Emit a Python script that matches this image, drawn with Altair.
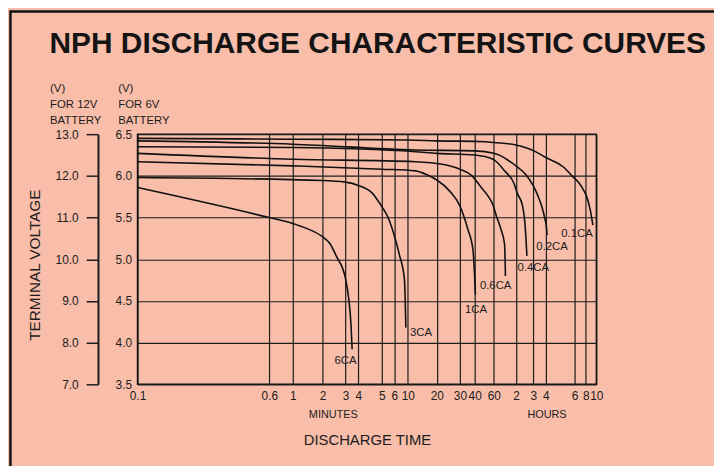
import altair as alt
import pandas as pd

# ---------------- data ----------------
curve_names = ["0.1CA", "0.2CA", "0.4CA", "0.6CA", "1CA", "3CA", "6CA"]

# discharge time in minutes, terminal voltage for a 6V battery
t_01 = [0.1, 1, 10, 20, 50, 60, 120, 183, 240, 310, 347, 400, 453, 487, 528, 558]
v_01 = [6.45, 6.44, 6.43, 6.42, 6.41, 6.40, 6.37, 6.30, 6.22, 6.10, 6.00, 5.92, 5.83, 5.76, 5.59, 5.41]

t_02 = [0.1, 1, 12, 40, 60, 75, 100, 120, 150, 180, 200, 220, 235, 242, 244]
v_02 = [6.42, 6.38, 6.31, 6.30, 6.27, 6.24, 6.17, 6.12, 6.02, 5.88, 5.76, 5.62, 5.48, 5.38, 5.29]

t_04 = [0.1, 1, 12, 20, 40, 59, 67, 84, 114, 124, 140, 148, 155]
v_04 = [6.35, 6.34, 6.29, 6.27, 6.25, 6.20, 6.16, 6.06, 5.90, 5.79, 5.64, 5.43, 5.04]

t_06 = [0.1, 1, 12, 22, 30, 38, 46, 53, 59, 65, 75, 84, 86.4]
v_06 = [6.27, 6.20, 6.17, 6.14, 6.08, 6.00, 5.86, 5.76, 5.65, 5.52, 5.36, 5.18, 4.80]

t_1 = [0.1, 1, 5, 12, 16, 20, 25, 30, 35, 38.7, 40.6]
v_1 = [6.17, 6.12, 6.08, 6.06, 6.01, 5.95, 5.82, 5.64, 5.36, 5.11, 4.58]

t_3 = [0.1, 2, 3, 4, 4.58, 4.8, 5.05, 5.45, 5.9, 7.3, 8.8, 9.3]
v_3 = [5.98, 5.945, 5.925, 5.885, 5.79, 5.71, 5.62, 5.51, 5.33, 5.05, 4.76, 4.18]

t_6 = [0.1, 0.6, 1, 1.38, 2, 2.3, 2.55, 3.0, 3.23, 3.40, 3.48]
v_6 = [5.86, 5.50, 5.43, 5.37, 5.27, 5.18, 5.04, 4.77, 4.52, 4.20, 3.92]

# curve labels (text centre, in data units)
label_text = ["6CA", "3CA", "1CA", "0.6CA", "0.4CA", "0.2CA", "0.1CA"]
label_t = [3.0, 13.7, 41.1, 63.6, 180, 262, 384]
label_v = [3.785, 4.12, 4.39, 4.68, 4.90, 5.15, 5.30]

# axes
tick_minutes = [0.1, 0.6, 1, 2, 3, 4, 5, 6, 10, 20, 30, 40, 60, 120, 180, 240, 360, 480, 600]
ticks_6v = [3.5, 4.0, 4.5, 5.0, 5.5, 6.0, 6.5]
ticks_12v = [7.0, 8.0, 9.0, 10.0, 11.0, 12.0, 13.0]
unit_t = [2.4, 242]  # centres of the MINUTES / HOURS captions

# ---------------- tables ----------------
series = [t_01, t_02, t_04, t_06, t_1, t_3, t_6]
volts = [v_01, v_02, v_04, v_06, v_1, v_3, v_6]
rows = []
for name, ts, vs in zip(curve_names, series, volts):
    for i, (t, v) in enumerate(zip(ts, vs)):
        rows.append({"curve": name, "t": t, "v": v, "order": i})
curves_df = pd.DataFrame(rows)
labels_df = pd.DataFrame({"label": label_text, "t": label_t, "v": label_v})
v12_df = pd.DataFrame({"v12": ticks_12v})
unit_df = pd.DataFrame({"t": unit_t})

# ---------------- style ----------------
FONT = "Liberation Sans"
INK = "#1c1c1c"
BG = "#F9BEA9"
W, H = 464, 253
# the reference time axis is hand drawn: gridline positions (px from left edge)
grid_px = [0, 133.3, 157, 187, 210.3, 223.3, 247, 259.7, 273.3, 302.7, 326, 341,
           360.3, 382.7, 400.3, 413, 442, 453.3, 464]

xscale = alt.Scale(type="log", domain=tick_minutes, range=grid_px, nice=False)
yscale6 = alt.Scale(domain=[3.5, 6.5], nice=False, zero=False)
yscale12 = alt.Scale(domain=[7.0, 13.0], nice=False, zero=False)

x_axis = alt.Axis(
    values=tick_minutes,
    labelExpr="datum.value >= 120 ? format(datum.value / 60, 'd') : (datum.value < 1 ? format(datum.value, '.1f') : format(datum.value, 'd'))",
    grid=True, gridColor=INK, gridWidth=1.2, gridOpacity=1,
    domain=False, ticks=False, tickSize=0,
    labelPadding=6, labelOverlap=False, labelFlush=False,
    labelFont=FONT, labelFontSize=12, labelColor=INK,
    title="DISCHARGE TIME", titleFont=FONT, titleFontSize=15, titleFontWeight="normal",
    titleColor=INK, titleBaseline="alphabetic", titleY=61,
)

y6_axis = alt.Axis(
    orient="left", values=ticks_6v, format=".1f",
    grid=True, gridColor=INK, gridWidth=1.2, gridOpacity=1,
    domain=False, ticks=False, tickSize=0, labelPadding=6, labelOverlap=False,
    labelFont=FONT, labelFontSize=12, labelColor=INK,
    title=["(V)", "FOR 6V", "BATTERY"], titleAngle=0, titleAlign="left",
    titleBaseline="alphabetic", titleX=-20, titleY=-43, titleLineHeight=16,
    titleFont=FONT, titleFontSize=11.5, titleFontWeight="normal", titleColor=INK,
)

y12_axis = alt.Axis(
    orient="left", offset=40, values=ticks_12v, format=".1f", grid=False,
    domain=True, domainColor=INK, domainWidth=2,
    ticks=True, tickSize=12, tickWidth=1.5, tickColor=INK,
    labelPadding=8, labelOverlap=False,
    labelFont=FONT, labelFontSize=12, labelColor=INK,
    title=["(V)", "FOR 12V", "BATTERY"], titleAngle=0, titleAlign="left",
    titleBaseline="alphabetic", titleX=-49, titleY=-43, titleLineHeight=16,
    titleFont=FONT, titleFontSize=11.5, titleFontWeight="normal", titleColor=INK,
)

tv_axis = alt.Axis(
    orient="left", offset=0, domain=False, ticks=False, labels=False, grid=False,
    title="TERMINAL VOLTAGE", titleAngle=270, titleAlign="center", titleBaseline="middle",
    titleX=-104, titleY=132, titleFont=FONT, titleFontSize=15.5,
    titleFontWeight="normal", titleColor=INK,
)

unit_axis = alt.Axis(
    orient="bottom", values=unit_t,
    labelExpr="datum.value < 60 ? 'MINUTES' : 'HOURS'",
    domain=False, ticks=False, tickSize=0, grid=False, labelPadding=25,
    labelOverlap=False, labelFlush=False,
    labelFont=FONT, labelFontSize=11, labelColor=INK, title=None,
)

# ---------------- layers ----------------
curves = alt.Chart(curves_df).mark_line(
    color="#111111", strokeWidth=1.6, interpolate="monotone"
).encode(
    x=alt.X("t:Q", scale=xscale, axis=x_axis),
    y=alt.Y("v:Q", scale=yscale6, axis=y6_axis),
    detail="curve:N",
    order=alt.Order("order:Q"),
)

labels = alt.Chart(labels_df).mark_text(
    font=FONT, fontSize=11.5, color=INK, align="center", baseline="middle"
).encode(
    x=alt.X("t:Q", scale=xscale, axis=None),
    y=alt.Y("v:Q", scale=yscale6, axis=None),
    text="label:N",
)

axis12 = alt.Chart(v12_df).mark_point(opacity=0).encode(
    y=alt.Y("v12:Q", scale=yscale12, axis=y12_axis)
)

axis_tv = alt.Chart(v12_df).mark_point(opacity=0).encode(
    y=alt.Y("v12:Q", scale=yscale12, axis=tv_axis)
)

units = alt.Chart(unit_df).mark_point(opacity=0).encode(
    x=alt.X("t:Q", scale=xscale, axis=unit_axis)
)

frame = alt.Chart(pd.DataFrame({"f": [0]})).mark_rect(
    fillOpacity=0, stroke="#111111", strokeWidth=2.5
).encode(
    x=alt.value(-128.5), x2=alt.value(620), y=alt.value(-124), y2=alt.value(360)
)

chart = alt.layer(curves, labels, axis12, axis_tv, units, frame).resolve_scale(
    x="independent", y="independent"
).properties(
    width=W, height=H,
    padding={"left": 131, "top": 125, "right": 119, "bottom": 80},
    autosize=alt.AutoSizeParams(type="none"),
    background=BG,
    title=alt.TitleParams(
        text="NPH DISCHARGE CHARACTERISTIC CURVES", anchor="start", frame="group",
        dx=-89, dy=73, offset=0, fontSize=30.2, font=FONT, fontWeight=900,
        color="#141414", baseline="alphabetic",
    ),
).configure_view(stroke="#111111", strokeWidth=1.5)

chart.save("out.html", embed_options={"renderer": "svg", "actions": False})
